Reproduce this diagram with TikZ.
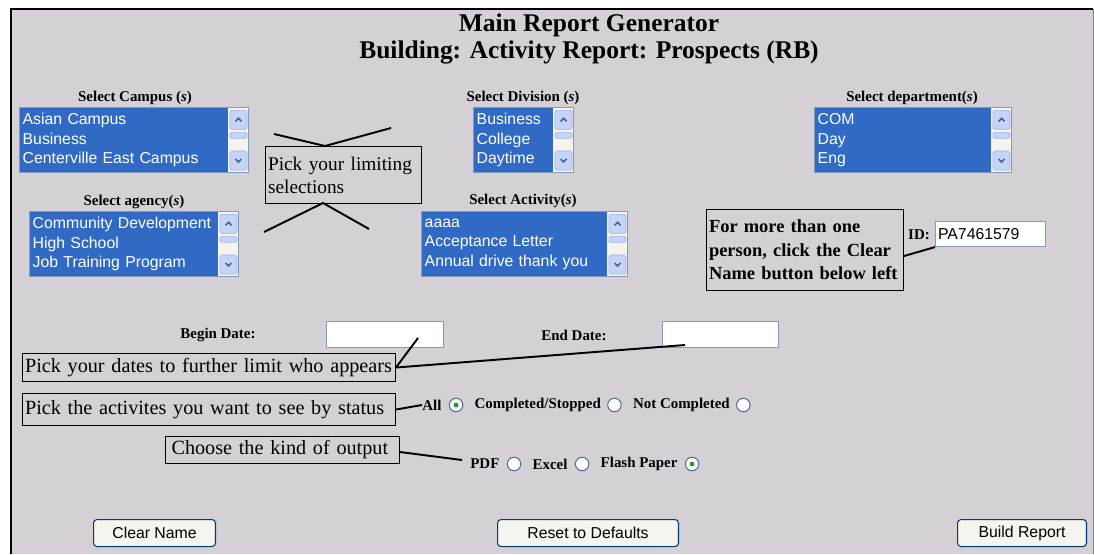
\documentclass[tikz,border=0pt]{standalone}
\usepackage{fontspec}
\setmainfont{Liberation Serif}
\setsansfont{Liberation Sans}
\usetikzlibrary{calc,positioning}
\definecolor{pagegrey}{RGB}{212,208,214}
\definecolor{listblue}{RGB}{49,106,197}
\definecolor{boxedge}{RGB}{127,157,185}
\definecolor{scrollbtn}{RGB}{196,212,250}
\definecolor{scrolledge}{RGB}{160,182,226}
\definecolor{scrolltrack}{RGB}{244,243,238}
\definecolor{chevron}{RGB}{77,97,133}
\definecolor{radioedge}{RGB}{80,110,150}
\definecolor{radiodot}{RGB}{33,161,33}
\definecolor{btnedge}{RGB}{0,60,116}
\definecolor{btnfill}{RGB}{245,244,238}
\begin{document}
\begin{tikzpicture}[x=0.02cm, y=-0.02cm]
			\tikzstyle{heading} = [font=\fontsize{14.5}{15}\selectfont\bfseries, align=center]
			\tikzstyle{lbl} = [font=\fontsize{8.5}{10}\selectfont\bfseries, inner sep=0pt]
			\tikzstyle{listbox} = [draw=boxedge, line width=0.8pt, fill=listblue, text=white, anchor=north west, inner xsep=0.06cm, inner ysep=0pt, minimum height=1.3cm, align=left, font=\sffamily\fontsize{9}{11}\selectfont]
			\tikzstyle{scrollbtn} = [draw=scrolledge, fill=scrollbtn, rounded corners=1pt, line width=0.4pt, minimum width=0.34cm, inner sep=0pt]
			\tikzstyle{chev} = [chevron, line width=0.9pt]
			\tikzstyle{note} = [draw, line width=0.6pt, anchor=north west, inner xsep=0.05cm, inner ysep=0pt, align=left, font=\fontsize{11.5}{13}\selectfont]
			\tikzstyle{field} = [draw=boxedge, fill=white, line width=0.6pt, anchor=north west, inner sep=0pt, minimum height=0.52cm]
			\tikzstyle{radio} = [circle, draw=radioedge, fill=white, line width=0.6pt, minimum size=0.27cm, inner sep=0pt]
			\tikzstyle{button} = [draw=btnedge, fill=btnfill, rounded corners=2pt, line width=0.6pt, anchor=north west, minimum height=0.54cm, font=\sffamily\fontsize{9}{10}\selectfont]
			\tikzstyle{pointer} = [line width=1.1pt]
			\useasboundingbox (0,0) rectangle (1094,554);
			% page
			\fill[pagegrey] (11,9) rectangle (1093,554);
			\draw[gray, line width=0.4pt] (1093,9) -- (1093,554);
			\draw[line width=1.7pt] (11,554) -- (11,9) -- (1093,9);
			\node[heading] (title) at (589,39) {Main Report Generator\\Building: Activity Report: Prospects (RB)};
			\begin{scope}
			% list boxes
			\node[lbl] (campuslbl) at (135,98) {Select Campus (\textit{s})};
			\node[listbox, text width=4.46cm] (campus) at (19,107) {Asian Campus\\Business\\Centerville East Campus};
			\node[lbl] (divisionlbl) at (523,98) {Select Division (\textit{s})};
			\node[listbox, text width=1.88cm] (division) at (473,107) {Business\\College\\Daytime};
			\node[lbl] (departmentlbl) at (912,98) {Select department(\textit{s})};
			\node[listbox, text width=3.82cm] (department) at (814,107) {COM\\Day\\Eng};
			\node[lbl] (agencylbl) at (134,202) {Select agency(\textit{s})};
			\node[listbox, text width=4.06cm] (agency) at (29,211) {Community Development\\High School\\Job Training Program};
			\node[lbl] (activitylbl) at (523,201) {Select Activity(\textit{s})};
			\node[listbox, text width=4.00cm] (activity) at (421,211) {aaaa\\Acceptance Letter\\Annual drive thank you};
			\foreach \lb in {campus,division,department,agency,activity}{
				\fill[scrolltrack] ($(\lb.north east)+(-21,1)$) rectangle ($(\lb.south east)+(-1,-1)$);
				\node[scrollbtn, minimum height=0.38cm, anchor=north east] (\lb-up) at ($(\lb.north east)+(-2,3)$) {};
				\node[scrollbtn, minimum height=0.12cm, anchor=north east] (\lb-thumb) at ($(\lb.north east)+(-2,25)$) {};
				\node[scrollbtn, minimum height=0.38cm, anchor=south east] (\lb-down) at ($(\lb.south east)+(-2,-3)$) {};
				\draw[chev] ($(\lb-up.center)+(-3,1.5)$) -- ++(3,-3) -- ++(3,3);
				\draw[chev] ($(\lb-down.center)+(-3,-1.5)$) -- ++(3,3) -- ++(3,-3);
			}
			\end{scope}
			% callout for the lists
			\node[note, font=\fontsize{11}{13}\selectfont, text width=3.02cm, minimum height=1.14cm] (limit) at (265,146) {Pick your limiting\\selections};
			\coordinate (limA) at (274,134);
			\coordinate (limB) at (325,146);
			\coordinate (limC) at (391,128);
			\coordinate (limD) at (264,232);
			\coordinate (limE) at (323,203);
			\coordinate (limF) at (369,229);
			\draw[pointer] (limA) -- (limB) -- (limC);
			\draw[pointer] (limD) -- (limE) -- (limF);
			% id
			\node[note, font=\fontsize{10.5}{13.3}\selectfont\bfseries, text width=3.84cm, minimum height=1.62cm] (idnote) at (706,209) {For more than one\\person, click the Clear\\Name button below left};
			\node[lbl] (idlbl) at (919,235) {ID:};
			\node[field, inner xsep=0.05cm, text width=2.1cm, minimum height=0.5cm, align=left, font=\sffamily\fontsize{9}{10}\selectfont] (idbox) at (935,221) {PA7461579};
			\draw[pointer] ($(idnote.east)+(0,6)$) -- (idbox.south west);
			% dates
			\node[lbl] (beginlbl) at (218,335) {Begin Date:};
			\node[field, minimum width=2.34cm] (beginbox) at (326,321) {};
			\node[lbl] (endlbl) at (574,335) {End Date:};
			\node[field, minimum width=2.32cm] (endbox) at (662,321) {};
			\node[note, text width=7.36cm, minimum height=0.56cm] (dates) at (22,353) {Pick your dates to further limit who appears};
			\coordinate (beginpt) at (418,338);
			\coordinate (endpt) at (685,345);
			\draw[pointer] (dates.east) -- (beginpt);
			\draw[pointer] (dates.east) -- (endpt);
			% status
			\node[note, text width=7.36cm, minimum height=0.64cm] (status) at (22,393) {Pick the activites you want to see by status};
			\node[lbl, anchor=west] (all) at (422,405) {All};
			\node[radio, right=0.14cm of all] (allr) {};
			\node[lbl, right=0.22cm of allr] (comp) {Completed/Stopped};
			\node[radio, right=0.12cm of comp] (compr) {};
			\node[lbl, right=0.22cm of compr] (notc) {Not Completed};
			\node[radio, right=0.12cm of notc] (notcr) {};
			\fill[radiodot] (allr) circle (1.4pt);
			\draw[pointer] (status.east) -- (all.west);
			% output
			\node[note, inner xsep=0.12cm, text width=4.44cm, minimum height=0.54cm] (output) at (165,436) {Choose the kind of output};
			\node[lbl, anchor=west] (pdf) at (470,464) {PDF};
			\node[radio, right=0.14cm of pdf] (pdfr) {};
			\node[lbl, right=0.22cm of pdfr] (excel) {Excel};
			\node[radio, right=0.14cm of excel] (excelr) {};
			\node[lbl, right=0.22cm of excelr] (flash) {Flash Paper};
			\node[radio, right=0.14cm of flash] (flashr) {};
			\fill[radiodot] (flashr) circle (1.4pt);
			\draw[pointer] ($(output.east)+(0,2)$) -- ($(pdf.west)+(-8,-4)$);
			% buttons
			\node[button, minimum width=2.44cm] (clear) at (93,519) {Clear Name};
			\node[button, minimum width=3.62cm] (reset) at (497,519) {Reset to Defaults};
			\node[button, minimum width=2.58cm] (build) at (957,519) {Build Report};
\end{tikzpicture}
\end{document}
